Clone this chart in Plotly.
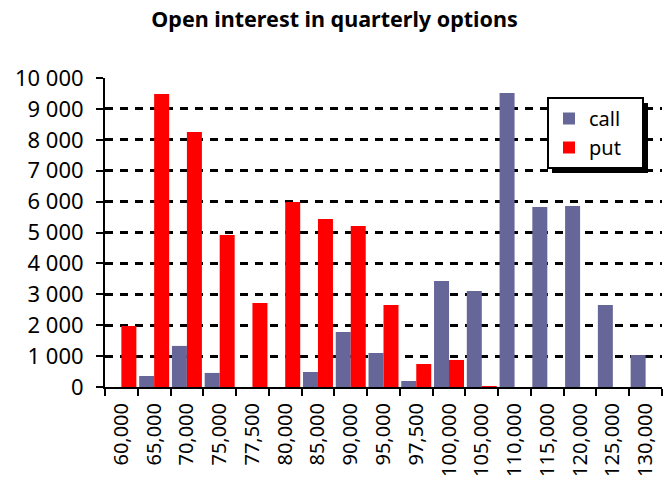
import plotly.graph_objects as go

strikes = ["60,000", "65,000", "70,000", "75,000", "77,500", "80,000", "85,000",
           "90,000", "95,000", "97,500", "100,000", "105,000", "110,000",
           "115,000", "120,000", "125,000", "130,000"]
call_oi = [0, 356, 1330, 455, 0, 0, 485, 1780, 1100, 195, 3430, 3105, 9515,
           5825, 5860, 2655, 1035]
put_oi = [1975, 9480, 8250, 4920, 2720, 5990, 5435, 5210, 2655, 745, 875, 30,
          0, 0, 0, 0, 0]

FONT = "Noto Sans, sans-serif"
FS = 22
PAD = "\u00a0\u00a0\u00a0"

fig = go.Figure()
fig.add_trace(go.Bar(name="call" + PAD, x=strikes, y=call_oi, marker_color="#666699",
                     marker_line_width=0))
fig.add_trace(go.Bar(name="put" + PAD, x=strikes, y=put_oi, marker_color="#FF0000",
                     marker_line_width=0))

L, R, T, B = 105, 7, 78, 92
W, H = 669, 479
pw, ph = W - L - R, H - T - B

def px(x):
    return (x - L) / pw

def py(y):
    return (H - B - y) / ph

fig.update_layout(
    width=W, height=H,
    margin=dict(l=L, r=R, t=T, b=B, autoexpand=False),
    paper_bgcolor="white", plot_bgcolor="white",
    barmode="group", bargap=0.085, bargroupgap=0,
    separators=". ",
    font=dict(family=FONT, size=FS, color="black"),
    title=dict(text="<b>Open interest in quarterly options</b>",
               x=0.5, xanchor="center", y=1 - 19 / H, yanchor="middle",
               font=dict(family=FONT, size=21.5, color="black")),
    showlegend=True,
    legend=dict(x=px(547), y=py(97), xanchor="left", yanchor="top",
                bgcolor="white", bordercolor="black", borderwidth=2,
                font=dict(family=FONT, size=20, color="black"),
                traceorder="normal", tracegroupgap=0),
    shapes=[dict(type="rect", xref="paper", yref="paper",
                 x0=px(552), x1=px(648), y0=py(173), y1=py(103),
                 fillcolor="black", line_width=0, layer="above")],
    yaxis2=dict(overlaying="y", side="left", range=[0, 10000], dtick=1000,
                ticks="inside", ticklen=5, tickwidth=2, tickcolor="black",
                showticklabels=False, showgrid=False, zeroline=False,
                showline=False),
)

fig.update_xaxes(type="category", showline=True, linecolor="black", linewidth=2,
                 ticks="outside", ticklen=7, tickwidth=2, tickcolor="black",
                 tickson="boundaries", tickangle=-90, showgrid=False,
                 ticklabelstandoff=6,
                 tickfont=dict(family=FONT, size=20))
fig.layout.yaxis.update(range=[0, 10000], dtick=1000, tickformat=",d",
                        showline=True, linecolor="black", linewidth=2,
                        ticks="outside", ticklen=7, tickwidth=2, tickcolor="black",
                        ticklabelstandoff=8,
                        showgrid=True, gridcolor="black", gridwidth=3,
                        griddash="8px,7px",
                        zeroline=False, tickfont=dict(family=FONT, size=FS))

fig.write_html("out.html", config={"displayModeBar": False},
               post_script="document.body.style.margin='0';")
